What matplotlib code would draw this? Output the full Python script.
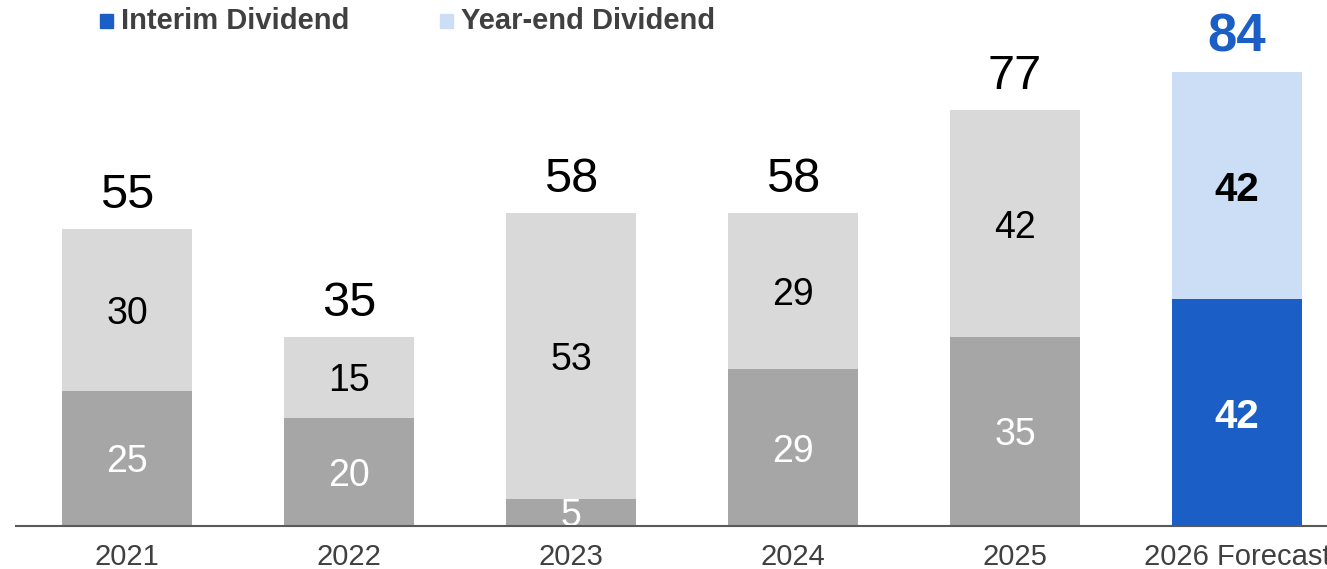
import matplotlib
matplotlib.use("Agg")
import matplotlib.pyplot as plt
from matplotlib.patches import Rectangle

plt.rcParams['font.family'] = ['Liberation Sans', 'DejaVu Sans']

# ─────────────────────────────────────────────
# DATA
# ─────────────────────────────────────────────
years = ['2021', '2022', '2023', '2024', '2025', '2026 Forecast']
interim = [25, 20, 5, 29, 35, 42]
year_end = [30, 15, 53, 29, 42, 42]
totals = [55, 35, 58, 58, 77, 84]
legend_labels = ['Interim Dividend', 'Year-end Dividend']

GREY_DARK = '#A6A6A6'
GREY_LIGHT = '#D9D9D9'
BLUE_DARK = '#1B5FC6'
BLUE_LIGHT = '#CCDDF6'

fig = plt.figure(figsize=(13.27, 5.69), dpi=100)
ax = fig.add_axes([16 / 1327, 43 / 569, 1 - 16 / 1327, 526 / 569])

x = list(range(len(years)))
forecast = [y.endswith('Forecast') for y in years]
c_int = [BLUE_DARK if f else GREY_DARK for f in forecast]
c_ye = [BLUE_LIGHT if f else GREY_LIGHT for f in forecast]

bw = 0.585
ax.bar(x, interim, bw, color=c_int, zorder=2)
ax.bar(x, year_end, bw, bottom=interim, color=c_ye, zorder=2)

# segment labels
for i in x:
    weight = 'bold' if forecast[i] else 'normal'
    size = 29 if forecast[i] else 27
    ax.text(i, interim[i] / 2, f'{interim[i]}', ha='center',
            va='center_baseline', fontsize=size, color='white',
            fontweight=weight)
    ax.text(i, interim[i] + year_end[i] / 2, f'{year_end[i]}',
            ha='center', va='center_baseline', fontsize=size,
            color='black', fontweight=weight)

# totals above bars
for i in x:
    if forecast[i]:
        ax.annotate(f'{totals[i]}', xy=(i, totals[i]), xytext=(0, 15),
                    textcoords='offset points', ha='center', va='baseline',
                    fontsize=38, fontweight='bold', color=BLUE_DARK)
    else:
        ax.annotate(f'{totals[i]}', xy=(i, totals[i]), xytext=(0, 15),
                    textcoords='offset points', ha='center', va='baseline',
                    fontsize=35, color='black')

ax.set_xlim(-0.5, 5.405)
ax.set_ylim(0, 97.4)
ax.set_xticks(x)
ax.set_xticklabels(years, fontsize=21, color='#404040')
ax.tick_params(axis='x', length=0, pad=12)
ax.set_yticks([])
for s in ['top', 'right', 'left']:
    ax.spines[s].set_visible(False)
ax.spines['bottom'].set_color('#595959')
ax.spines['bottom'].set_linewidth(1.5)
ax.spines['bottom'].set_zorder(3)

# legend
W, H = 1327, 569
for (lx, label, col) in [(100, legend_labels[0], BLUE_DARK),
                         (440, legend_labels[1], BLUE_LIGHT)]:
    fig.patches.append(Rectangle((lx / W, 1 - 28 / H), 13 / W, 14 / H,
                                 transform=fig.transFigure, color=col))
    fig.text((lx + 21) / W, 1 - 21 / H, label, fontsize=21,
             fontweight='bold', color='#404040', va='center', ha='left')

plt.savefig('out.png', dpi=100)
plt.close()
